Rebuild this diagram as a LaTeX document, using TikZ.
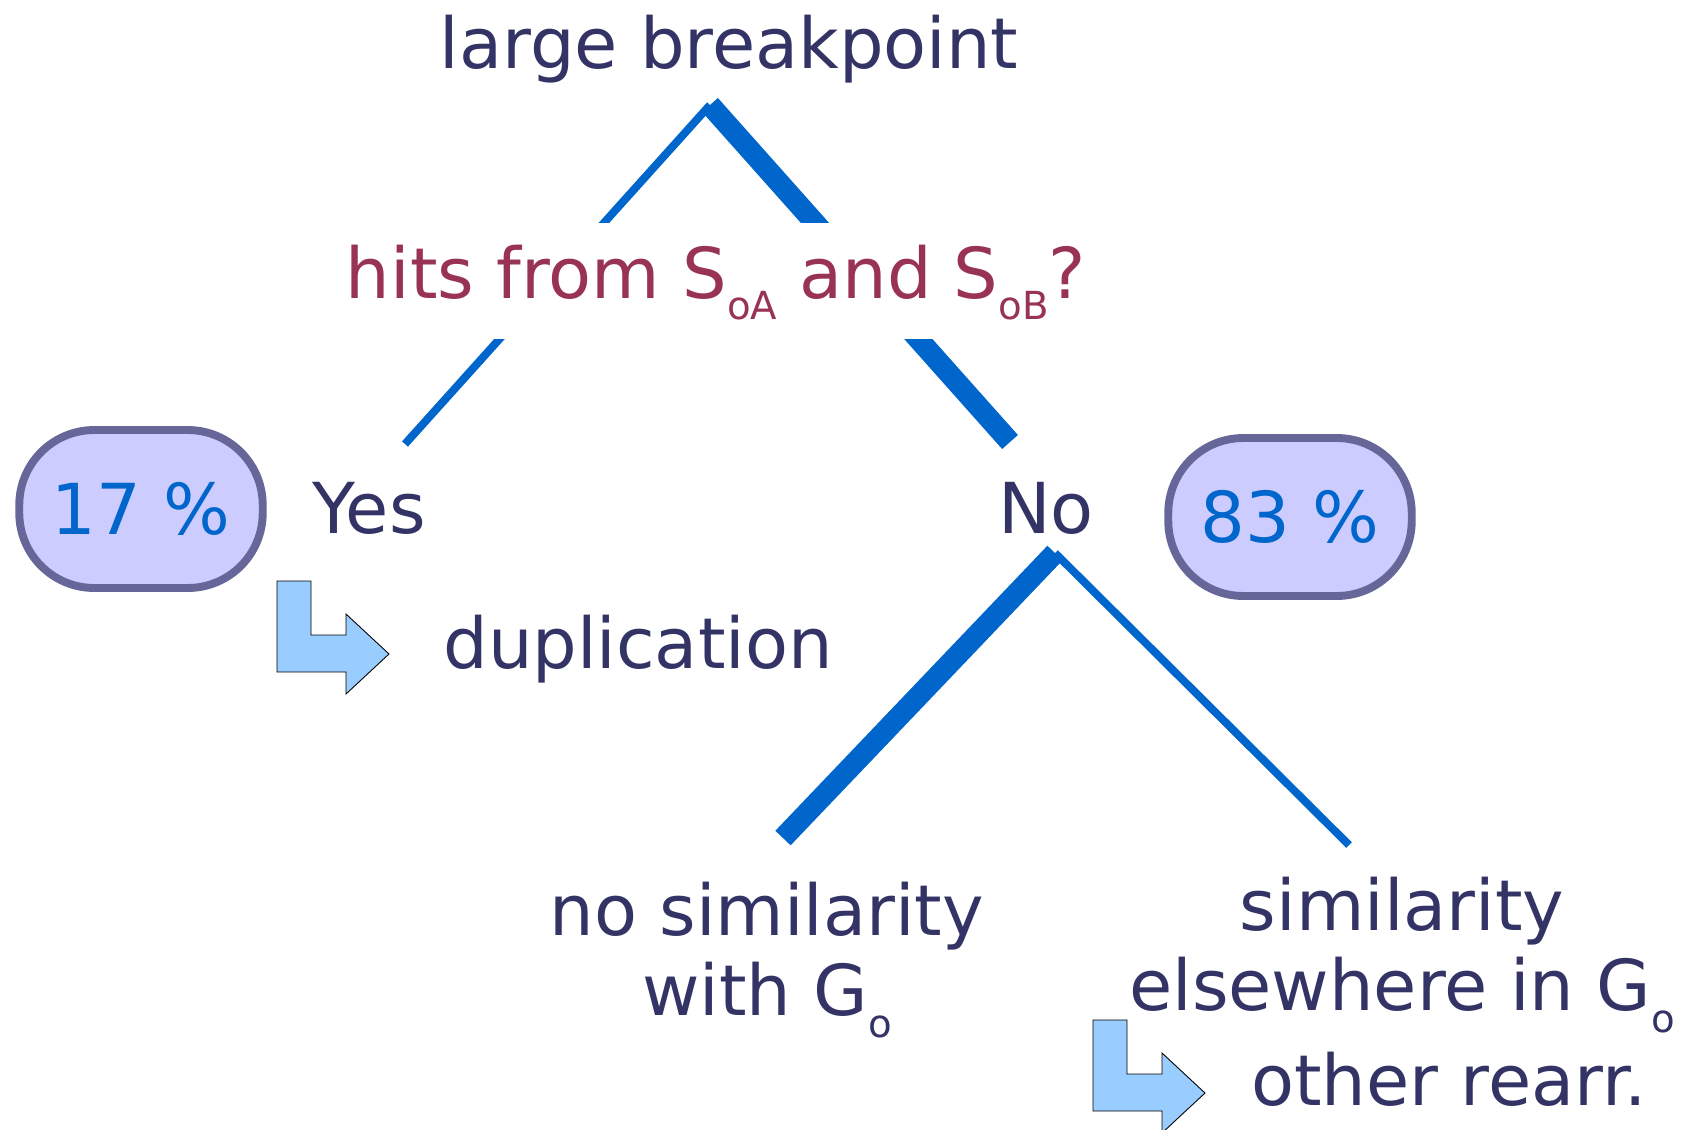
\documentclass[tikz,border=0pt]{standalone}
\usepackage{fontspec}
\setmainfont{DejaVu Sans}
\usetikzlibrary{positioning}
\definecolor{navy}{HTML}{333366}
\definecolor{wine}{HTML}{993355}
\definecolor{edgeblue}{HTML}{0066CC}
\definecolor{pillfill}{HTML}{CCCCFF}
\definecolor{pillline}{HTML}{666699}
\definecolor{arrowfill}{HTML}{99CCFF}
\newcommand\lowsub[1]{\raisebox{-12.5pt}{\fontsize{22}{22}\selectfont #1}}
\tikzset{
    txt/.style={
        text=navy,
        font=\fontsize{40}{45.5}\selectfont,
        inner sep=0pt,
        align=center
    },
    ques/.style={
        txt,
        text=wine,
        fill=white,
        text height=1.5cm,
        text depth=0.82cm
    },
    pill/.style={
        rectangle,
        rounded corners=1.5cm,
        draw=pillline,
        fill=pillfill,
        line width=4.5pt,
        minimum width=4.87cm,
        minimum height=3.16cm,
        text=edgeblue,
        font=\fontsize{40}{45.5}\selectfont
    },
    thinedge/.style={
        draw=edgeblue,
        line width=4.5pt
    },
    thickedge/.style={
        draw=edgeblue,
        line width=12pt
    },
    turnarrow/.pic={
        \draw[fill=arrowfill, draw=black, line width=0.5pt]
            (0,0) -- (34,0) -- (34,54) -- (69,54) -- (69,33) -- (112,73)
            -- (69,113) -- (69,91) -- (0,91) -- cycle;
    }
}

\begin{document}
\begin{tikzpicture}[x=0.02cm, y=-0.02cm]
\useasboundingbox (0,0) rectangle (1683,1129);

\node (brk) [txt, anchor=base] at (729,68) {large breakpoint};
\node (yes) [txt, anchor=base] at (369,533) {Yes};
\node (no) [txt, anchor=base] at (1046,533) {No};
\node (p17) [pill] at (141,509) {17 \%};
\node (p83) [pill] at (1290,517) {83 \%};
\node (dup) [txt, anchor=base] at (638,668) {duplication};
\node (nosim) [txt, anchor=north] at (767,882) {no similarity\\with G\lowsub{o}};
\node (sim) [txt, anchor=north] at (1402,877) {similarity\\elsewhere in G\lowsub{o}};
\node (other) [txt, anchor=base] at (1449,1105) {other rearr.};

% tree edges
\coordinate (apex) at (710,105);
\coordinate (yesend) at (405,444);
\coordinate (noend) at (1010,442);
\coordinate (fork) at (1055,553);
\coordinate (nosimend) at (783,838);
\coordinate (simend) at (1349,845);

\draw [thinedge] (apex) -- (yesend);
\draw [thickedge] (apex) -- (noend);
\draw [thickedge] (fork) -- (nosimend);
\draw [thinedge] (fork) -- (simend);

% question sits on top of the edges
\node (hits) [ques, anchor=base] at (716,298) {hits from S\lowsub{oA} and S\lowsub{oB}?};

\pic at (277,581) {turnarrow};
\pic at (1093,1020) {turnarrow};

\end{tikzpicture}
\end{document}
